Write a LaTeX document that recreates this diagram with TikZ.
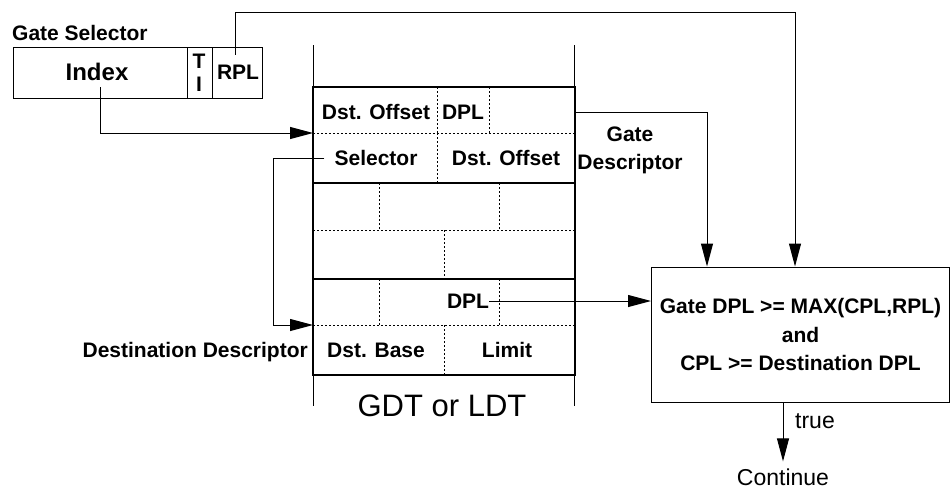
\documentclass[tikz,border=0pt]{standalone}
\usepackage{fontspec}
\setmainfont{Liberation Sans}
\usetikzlibrary{arrows.meta}

\begin{document}
\begin{tikzpicture}[x=1pt,y=-1pt,>={Triangle[length=23pt,width=12pt]},
  lbl/.style={font=\bfseries\fontsize{21}{25}\selectfont,inner sep=0pt},
  plain/.style={font=\fontsize{23}{26}\selectfont,inner sep=0pt},
  wire/.style={line width=1pt},
  slot/.style={line width=0.9pt,dash pattern=on 2pt off 2pt}]
\useasboundingbox (0,0) rectangle (950,491);
% gate selector
\draw[wire] (13,47) rectangle (262,98);
\draw[wire] (187,47) -- (187,98) (212,47) -- (212,98);
\node[lbl,anchor=west] (gsel) at (12,33) {Gate Selector};
\node[lbl,font=\bfseries\fontsize{24}{28}\selectfont] (index) at (97,72) {Index};
\node[lbl,align=center,font=\bfseries\fontsize{21}{23}\selectfont] (ti) at (199,73) {T\\I};
\node[lbl] (rpl) at (238,72) {RPL};
% descriptor table
\draw[wire] (313,45) -- (313,406);
\draw[wire] (574,45) -- (574,406);
\foreach \y in {87,183,279}
   \draw[line width=1.4pt] (313,\y) rectangle (575,\y+96);
\foreach \y in {133,230,325}
   \draw[slot] (313,\y) -- (575,\y);
\foreach \x/\ya/\yb in {437/87/133,489/87/133,437/133/183,379/183/230,499/183/230,444/230/279,379/279/325,499/279/325,444/325/375}
   \draw[slot] (\x,\ya) -- (\x,\yb);
\node[lbl] (off1) at (376,112) {Dst. Offset};
\node[lbl] (dpl1) at (463,112) {DPL};
\node[lbl] (sel) at (376,158) {Selector};
\node[lbl] (off2) at (506,158) {Dst. Offset};
\node[lbl] (dpl2) at (468,301) {DPL};
\node[lbl] (base) at (376,350) {Dst. Base};
\node[lbl] (limit) at (507,350) {Limit};
\node[font=\fontsize{31}{34}\selectfont,inner sep=0pt] (gdt) at (442,406) {GDT or LDT};
\node[lbl,align=center,font=\bfseries\fontsize{21}{28}\selectfont] (gdesc) at (630,150) {Gate\\Descriptor};
\node[lbl,anchor=east] (ddesc) at (308,352) {Destination Descriptor};
\coordinate (gatein) at (313,133);
\coordinate (destin) at (313,325);
\coordinate (gateout) at (575,112);
\coordinate (selx) at (273,325);
\coordinate (rpltop) at (795,12);
% privilege check
\node[draw,wire,minimum width=298pt,minimum height=135pt,align=center,
  font=\bfseries\fontsize{21}{28.5}\selectfont] (check) at (800.5,334.5)
  {Gate DPL >= MAX(CPL,RPL)\\and\\CPL >= Destination DPL};
\node[plain] (cont) at (783,477) {Continue};
\node[plain] (true) at (815,421) {true};
% connectors
\draw[wire,->] ([xshift=3pt,yshift=-6pt]index.south) |- (gatein);
\draw[wire,->] ([xshift=-3pt,yshift=10pt]rpl.north) |- (rpltop) -- (rpltop |- check.north);
\draw[wire,->] (gateout) -| ([xshift=-93.5pt]check.north);
\draw[wire,->] ([xshift=-10pt]sel.west) -| (selx) -- (destin);
\draw[wire,->] (dpl2.east) -- (dpl2.east -| check.west);
\draw[wire,->] ([xshift=-17.5pt]check.south) -- ([yshift=7pt]cont.north);
\end{tikzpicture}
\end{document}
